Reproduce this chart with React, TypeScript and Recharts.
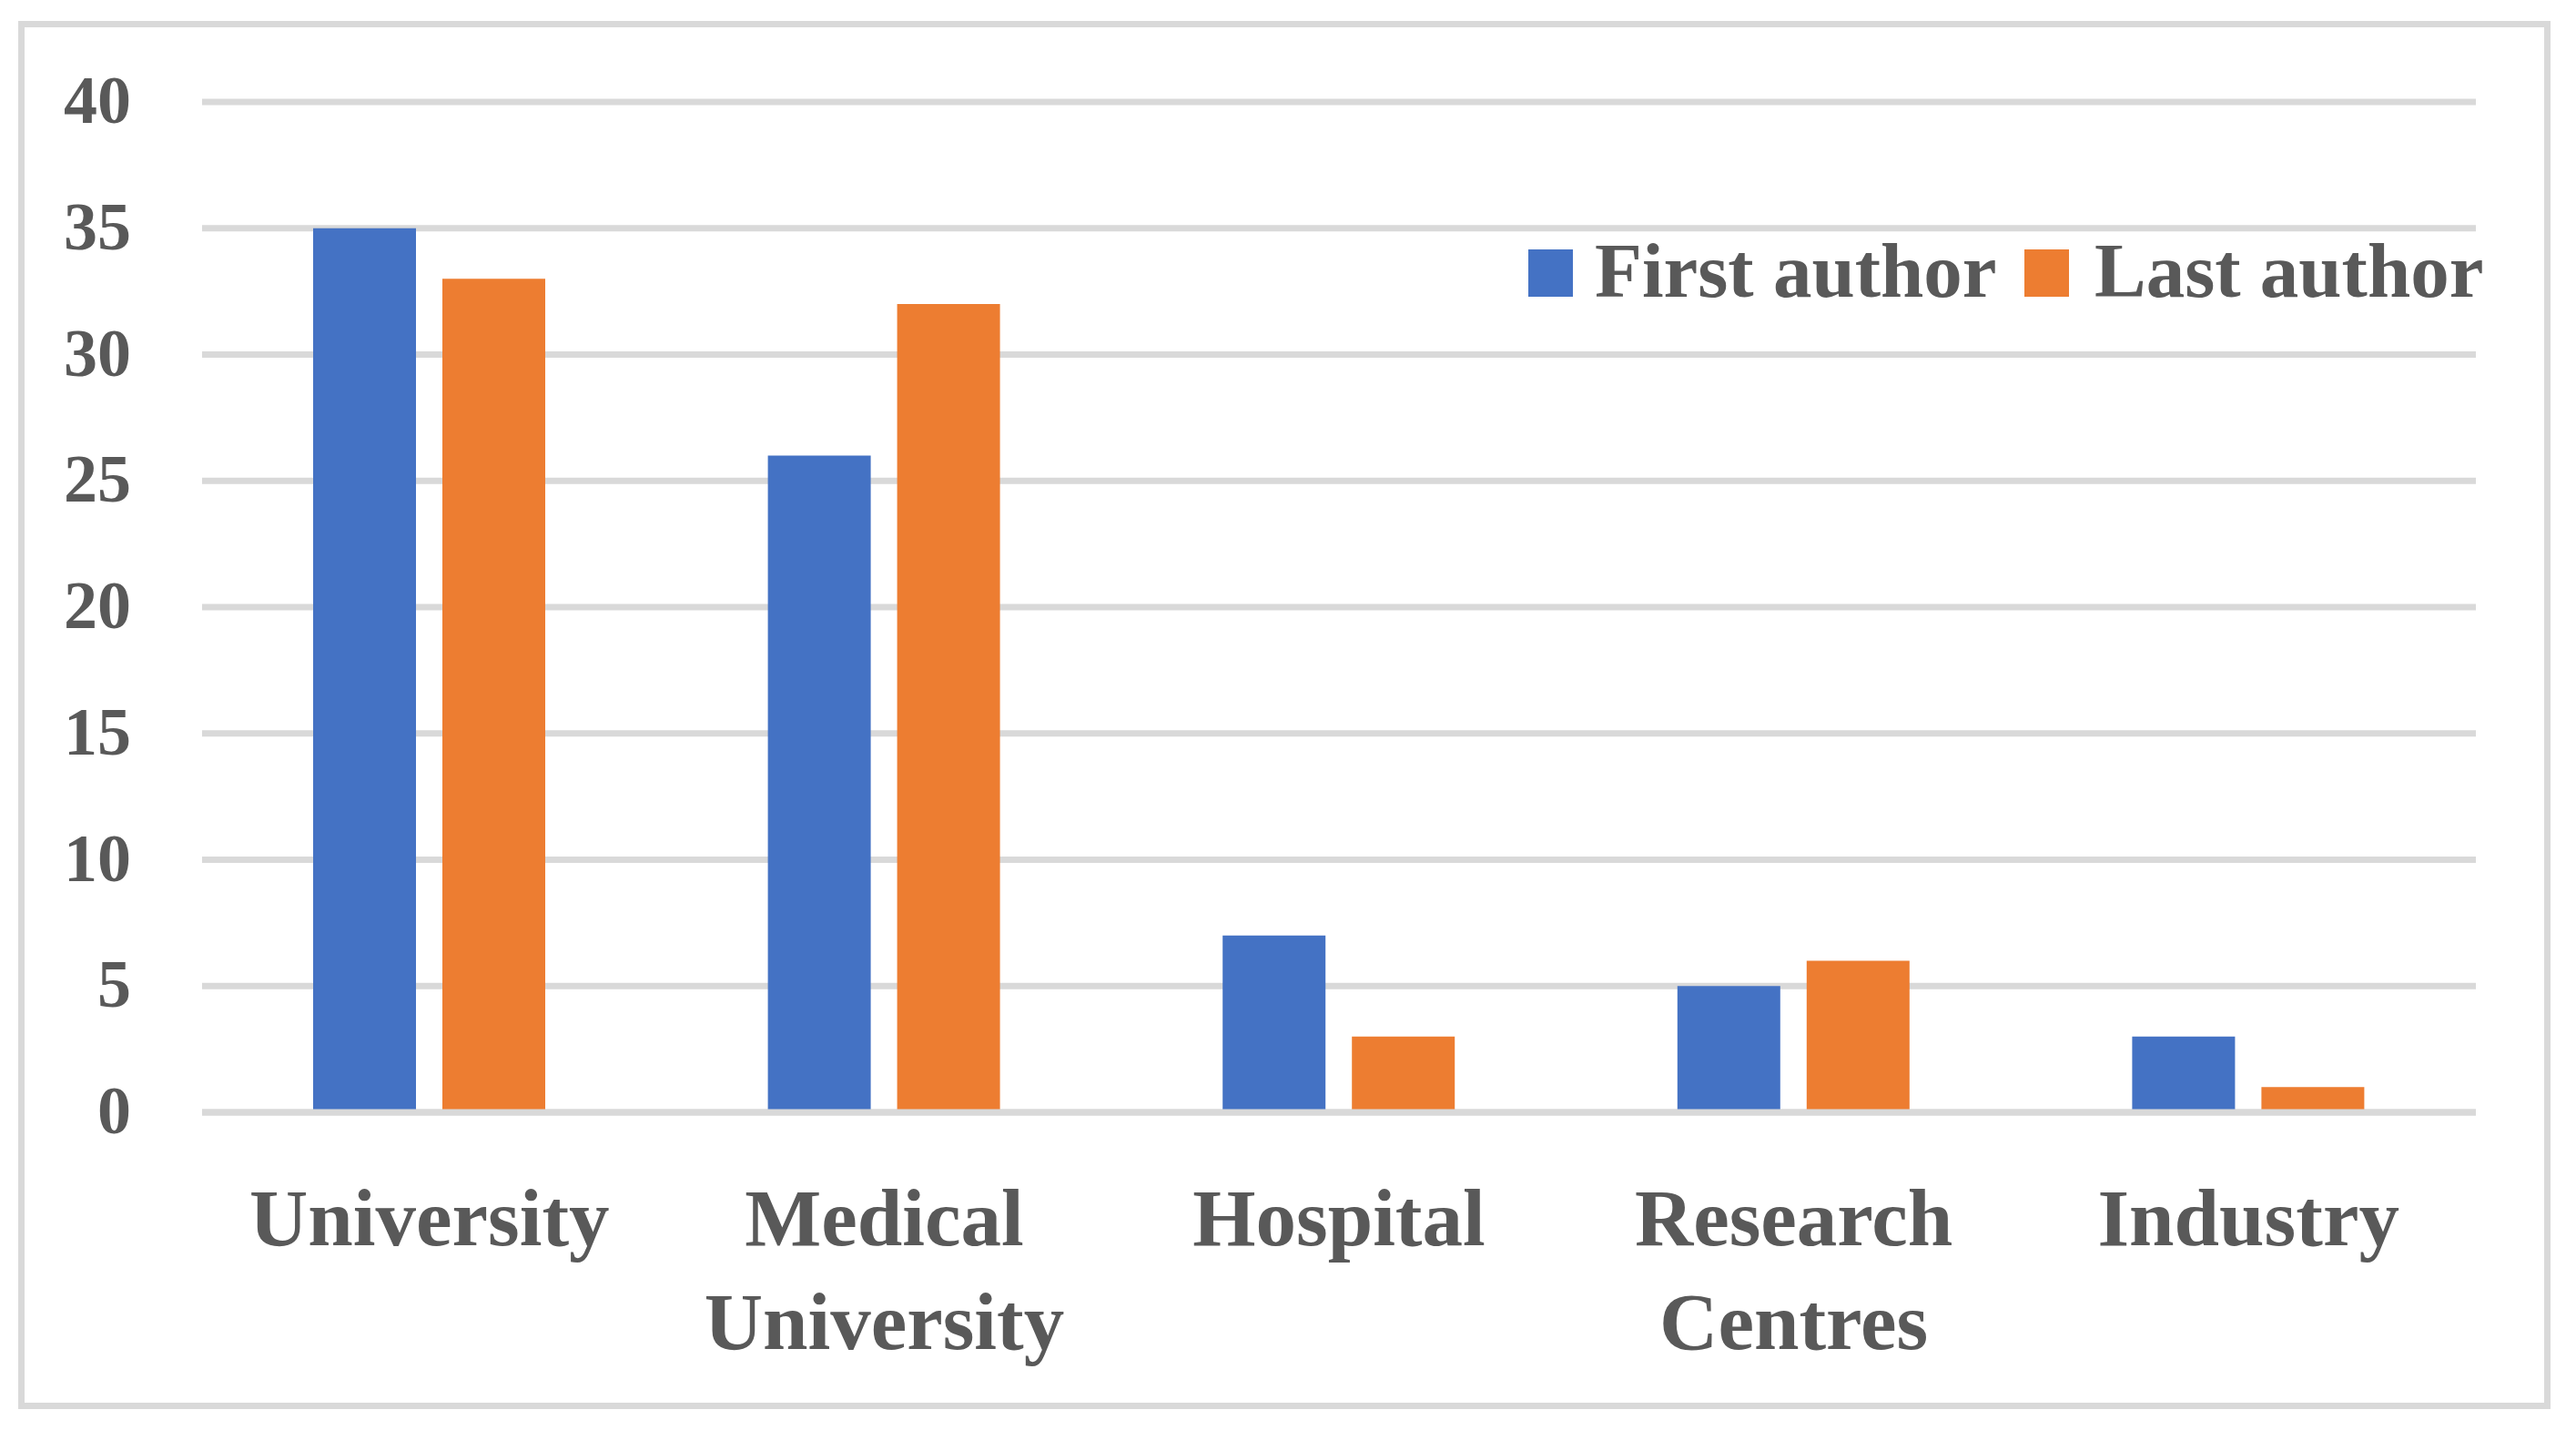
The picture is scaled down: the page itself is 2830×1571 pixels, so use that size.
import React from "react";
import { BarChart, Bar, XAxis, YAxis, CartesianGrid } from "recharts";

const categories = ["University", "Medical University", "Hospital", "Research Centres", "Industry"];
const firstAuthor = [35, 26, 7, 5, 3];
const lastAuthor = [33, 32, 3, 6, 1];
const yTicks = [0, 5, 10, 15, 20, 25, 30, 35, 40];

const seriesNames = ["First author", "Last author"];
const seriesColors = ["#4472C4", "#ED7D31"];

const chartData = categories.map((name, i) => ({
  name,
  [seriesNames[0]]: firstAuthor[i],
  [seriesNames[1]]: lastAuthor[i],
}));

const FONT = "'Liberation Serif', 'Times New Roman', serif";
const TEXT = "#595959";
const GRID = "#D9D9D9";

// legend item layout (x of square, x of label)
const legendPos = [
  { box: 1679, label: 1752 },
  { box: 2224, label: 2301 },
];

function XTick({ x, y, payload }: any) {
  const lines = String(payload.value).split(" ");
  return (
    <text
      x={x}
      y={y + 146}
      textAnchor="middle"
      fill={TEXT}
      fontFamily={FONT}
      fontWeight="bold"
      fontSize={89}
    >
      {lines.map((l, i) => (
        <tspan key={l} x={x} dy={i === 0 ? 0 : 114}>
          {l}
        </tspan>
      ))}
    </text>
  );
}

function YTick({ x, y, payload }: any) {
  return (
    <text
      x={x - 78}
      y={y + 23}
      textAnchor="end"
      fill={TEXT}
      fontFamily={FONT}
      fontWeight="bold"
      fontSize={74}
    >
      {payload.value}
    </text>
  );
}

export default function App() {
  return (
    <div
      style={{
        position: "absolute",
        left: 0,
        top: 0,
        width: 2830,
        height: 1571,
        background: "#fff",
        overflow: "hidden",
      }}
    >
      <div
        style={{
          position: "absolute",
          left: 20,
          top: 23,
          width: 2782,
          height: 1525,
          border: `7px solid ${GRID}`,
          boxSizing: "border-box",
        }}
      />
      <div style={{ position: "absolute", left: 0, top: 0 }}>
        <BarChart
          width={2830}
          height={1571}
          data={chartData}
          margin={{ top: 112, right: 110, bottom: 0, left: 22 }}
          barCategoryGap={122}
          barGap={29}
        >
          <CartesianGrid vertical={false} stroke={GRID} strokeWidth={7} />
          <YAxis
            domain={[0, 40]}
            ticks={yTicks}
            interval={0}
            width={200}
            axisLine={false}
            tickLine={false}
            tickSize={0}
            tickMargin={0}
            tick={<YTick />}
          />
          {seriesNames.map((s, i) => (
            <Bar key={s} dataKey={s} fill={seriesColors[i]} isAnimationActive={false} />
          ))}
          <XAxis
            dataKey="name"
            height={349}
            interval={0}
            axisLine={{ stroke: GRID, strokeWidth: 7 }}
            tickLine={false}
            tickSize={0}
            tickMargin={0}
            tick={<XTick />}
          />
        </BarChart>
      </div>
      <svg
        width={2830}
        height={1571}
        style={{ position: "absolute", left: 0, top: 0, pointerEvents: "none" }}
      >
        {seriesNames.map((s, i) => (
          <g key={s}>
            <rect x={legendPos[i].box} y={274} width={49} height={52} fill={seriesColors[i]} />
            <text
              x={legendPos[i].label}
              y={326}
              fill={TEXT}
              fontFamily={FONT}
              fontWeight="bold"
              fontSize={85}
            >
              {s}
            </text>
          </g>
        ))}
      </svg>
    </div>
  );
}
